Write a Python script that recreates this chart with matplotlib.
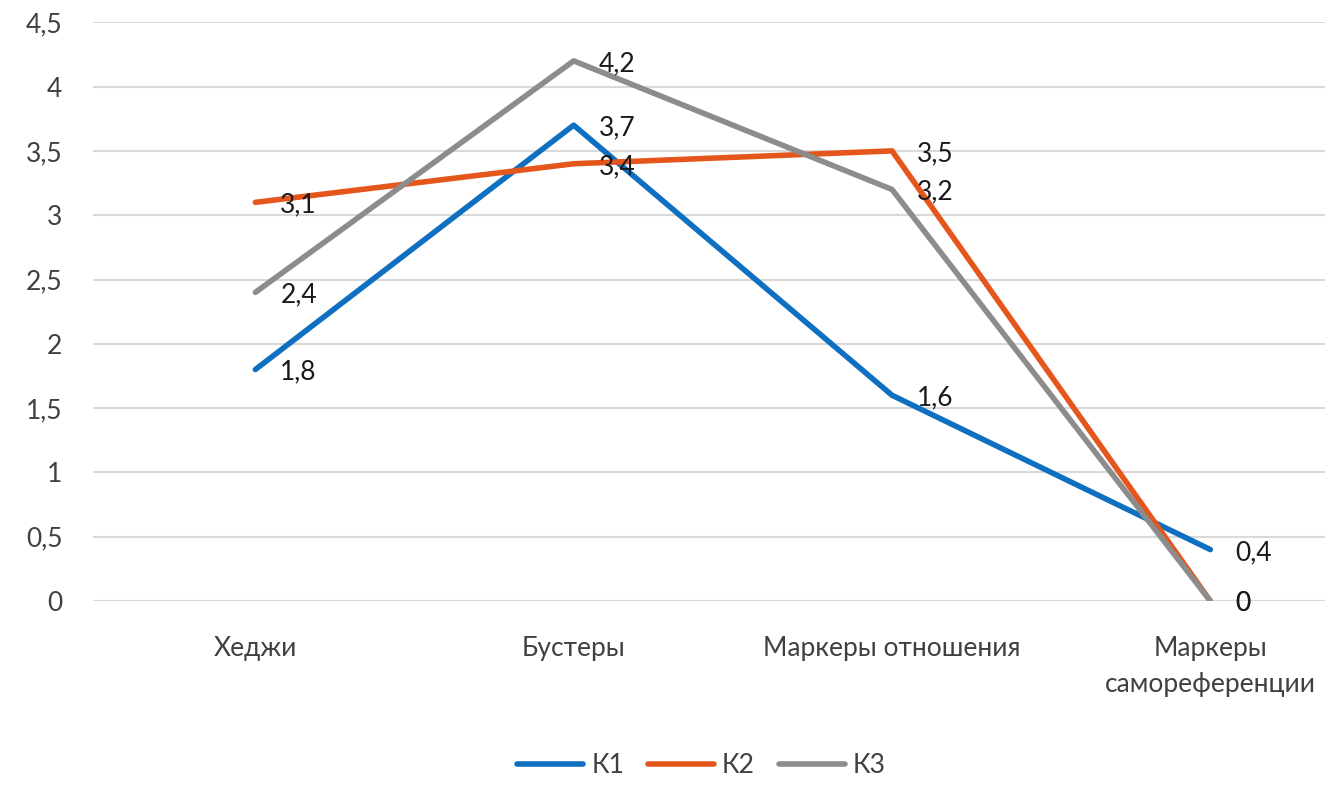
import numpy as np
import matplotlib
matplotlib.use('Agg')
import matplotlib.pyplot as plt

categories = ['Хеджи', 'Бустеры', 'Маркеры отношения', 'Маркеры\nсамореференции']
series_names = ['К1', 'К2', 'К3']
k1 = [1.8, 3.7, 1.6, 0.4]
k2 = [3.1, 3.4, 3.5, 0.0]
k3 = [2.4, 4.2, 3.2, 0.0]
y_ticks = [0, 0.5, 1, 1.5, 2, 2.5, 3, 3.5, 4, 4.5]

colors = ['#0F6FC0', '#E5561C', '#8C8C8C']

plt.rcParams['font.family'] = ['Lato', 'DejaVu Sans']

fig = plt.figure(figsize=(13.42, 7.9), dpi=100)
ax = fig.add_axes([0.0693, 0.2392, 0.918, 0.7326])

x = np.arange(len(categories))
for name, vals, c in zip(series_names, [k1, k2, k3], colors):
    ax.plot(x, vals, color=c, lw=4, label=name,
            solid_capstyle='round', solid_joinstyle='round', zorder=3)
    for xi, v in zip(x, vals):
        lbl = ('%g' % v).replace('.', ',')
        ax.annotate(lbl, (xi, v), xytext=(18, -2), textcoords='offset points',
                    ha='left', va='center', fontsize=19, color='#1a1a1a',
                    zorder=4)

ax.set_xlim(-0.51, 3.36)
ax.set_ylim(0, 4.5)
ax.set_yticks(y_ticks)
ax.set_yticklabels([('%g' % t).replace('.', ',') for t in y_ticks],
                   fontsize=19, color='#404040')
ax.set_xticks(x)
ax.set_xticklabels(categories, fontsize=19, color='#404040', linespacing=1.55)
ax.tick_params(axis='both', length=0)
ax.tick_params(axis='y', pad=22)
ax.tick_params(axis='x', pad=25)
ax.grid(axis='y', color='#D9D9D9', lw=1.5, zorder=0)
ax.set_axisbelow(True)
for s in ax.spines.values():
    s.set_visible(False)

fig.legend(loc='center', bbox_to_anchor=(0.5227, 0.031), ncol=3, frameon=False,
           fontsize=19, handlelength=2.5, handletextpad=0.3, columnspacing=0.9,
           labelcolor='#404040')

fig.savefig('out.png', dpi=100)
